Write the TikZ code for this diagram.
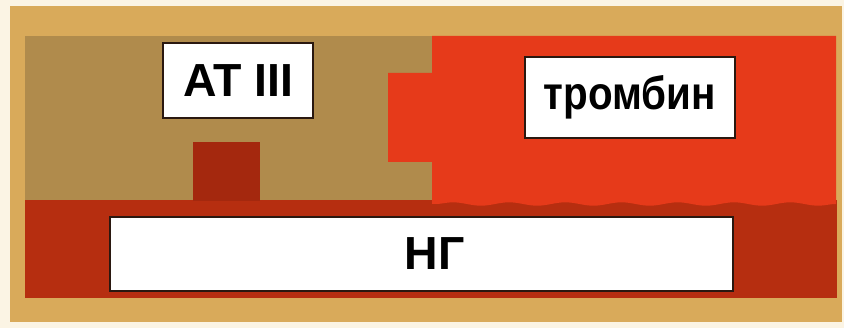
\documentclass[tikz,border=0pt]{standalone}
\usepackage{fontspec}
\usepackage{xcolor}
\usetikzlibrary{decorations.pathmorphing}
\newfontfamily\lblfont{Liberation Sans}
\definecolor{ahCream}{HTML}{FBF4E4}
\definecolor{ahTan}{HTML}{D9AA5A}
\definecolor{ahBrown}{HTML}{B08B4C}
\definecolor{ahRed}{HTML}{E63A1A}
\definecolor{ahDark}{HTML}{B62E10}
\definecolor{ahBump}{HTML}{A4280E}
\definecolor{ahInk}{HTML}{2A1810}
\tikzset{
  lbox/.style={draw=ahInk,line width=1.3pt,fill=white,inner sep=0pt,
               font=\lblfont\bfseries\fontsize{33}{33}\selectfont,text=black},
}

\begin{document}
\begin{tikzpicture}[x=0.025cm,y=-0.025cm]
    % frame
    \fill[ahCream] (0,0) rectangle (844,328);
    \fill[ahTan] (10,6) rectangle (842,322);
    \fill[ahBrown] (25,36) rectangle (432,202);
    % heparin chain with binding bump
    \fill[ahDark] (25,200) rectangle (837,298);
    \fill[ahBump] (193,142) rectangle (260,201);
    % thrombin
    \fill[ahRed] (432,36) -- (836,36) -- (836,204)
        decorate[decoration={snake,amplitude=1.2,segment length=40}] {-- (432,204)}
        -- (432,162) -- (388,162) -- (388,73) -- (432,73) -- cycle;

    \node[lbox,minimum width=3.75cm,minimum height=1.875cm] (at) at (238,80.5) {AT III};
    \node[lbox,minimum width=5.25cm,minimum height=2.025cm] (tr) at (630,97.5)
        {\scalebox{0.87}[1]{тромбин}};
    \node[lbox,minimum width=15.575cm,minimum height=1.85cm] (ng) at (421.5,254)
        {\hspace*{0.65cm}НГ};
  \end{tikzpicture}
\end{document}
